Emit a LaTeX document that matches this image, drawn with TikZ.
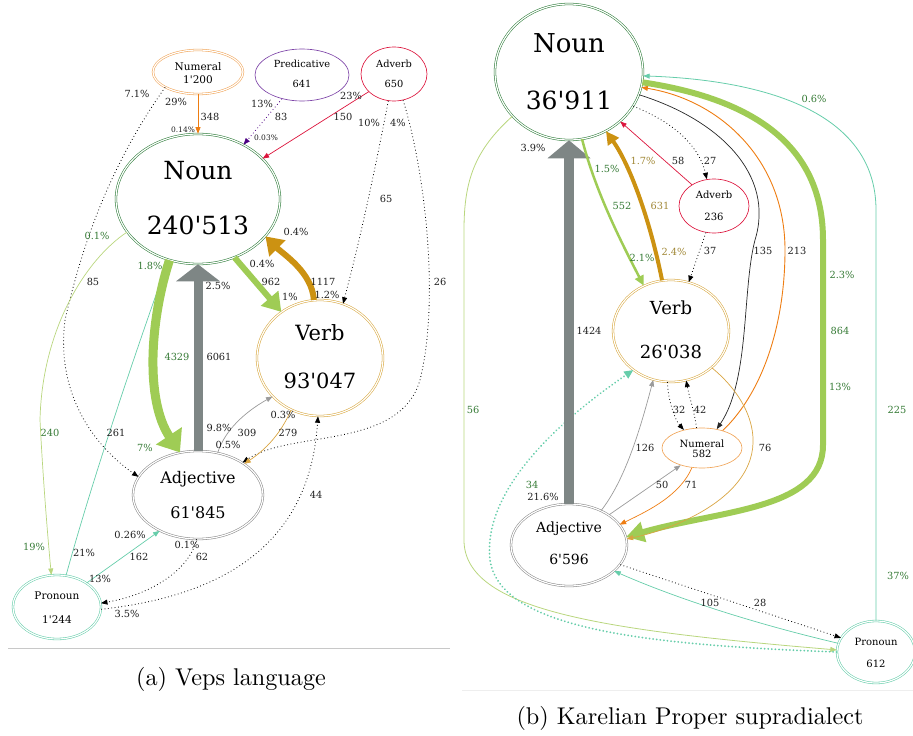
\documentclass[tikz,border=0pt]{standalone}
\usepackage{fontspec}
\newfontfamily\gv{DejaVu Serif}
\usetikzlibrary{shapes.geometric,arrows.meta}
\definecolor{cNoun}{HTML}{2E7D3A}
\definecolor{cLabG}{HTML}{357A35}
\definecolor{cYG}{HTML}{9FCC55}
\definecolor{cYGl}{HTML}{B9D67E}
\definecolor{cGold}{HTML}{CC9212}
\definecolor{cGoldB}{HTML}{D8A840}
\definecolor{cGoldl}{HTML}{D9A441}
\definecolor{cLabO}{HTML}{A08735}
\definecolor{cGray}{HTML}{7E8685}
\definecolor{cGrayl}{HTML}{9A9A9A}
\definecolor{cAdjB}{HTML}{8A8A8A}
\definecolor{cAqua}{HTML}{66CDAA}
\definecolor{cOr}{HTML}{EE7D12}
\definecolor{cOrB}{HTML}{F0A458}
\definecolor{cCrim}{HTML}{DC143C}
\definecolor{cPurp}{HTML}{7E45A8}
\definecolor{cInd}{HTML}{4B0082}
\definecolor{cLabK}{HTML}{1E1E1E}
\definecolor{cSep}{HTML}{C8C8C8}
\definecolor{cSepl}{HTML}{EEEEEE}
\newcommand\gvs[1]{\gv\fontsize{#1}{#1}\selectfont}
\begin{document}
\begin{tikzpicture}[x=1pt,y=-1pt,
  ell/.style={ellipse, draw, inner sep=0pt},
  dbl/.style={double=white, double distance=1.2pt, line width=0.55pt},
  sgl/.style={line width=0.65pt},
  nm/.style={anchor=base, inner sep=0pt, text=black},
  lab/.style={anchor=base, yshift=-3.5pt, inner sep=0pt, font=\gvs{9.8}, text=cLabK},
  slab/.style={anchor=base, yshift=-2.7pt, inner sep=0pt, font=\gvs{7.5}, text=cLabK},
  glab/.style={lab, text=cLabG},
  olab/.style={lab, text=cLabO},
  arr/.style={-{Triangle[length=6.5pt,width=5pt]}},
  dotl/.style={line width=0.8pt, dash pattern=on 0.8pt off 2.6pt},
  capt/.style={anchor=base, inner sep=0pt, font=\fontsize{10}{12}\selectfont, scale=2.42},
]
\useasboundingbox (0,0) rectangle (913,736);

% ---------------- Left panel nodes ----------------
\node[ell,dbl,draw=cNoun,minimum width=164pt,minimum height=130pt] (nA) at (198,199) {};
\node[ell,dbl,draw=cGoldB,minimum width=126pt,minimum height=116pt] (vA) at (320,358) {};
\node[ell,dbl,draw=cAdjB,minimum width=130pt,minimum height=88pt] (aA) at (198,495) {};
\node[ell,dbl,draw=cAqua,minimum width=88pt,minimum height=64pt] (pA) at (57,607) {};
\node[ell,dbl,draw=cOrB,minimum width=90pt,minimum height=44pt] (mA) at (198,72) {};
\node[ell,sgl,draw=cPurp,minimum width=94pt,minimum height=52pt] (qA) at (302,75) {};
\node[ell,sgl,draw=cCrim,minimum width=66pt,minimum height=54pt] (dA) at (394,74) {};

\node[nm,font=\gvs{25}] (nAt1) at (198,179) {Noun};
\node[nm,font=\gvs{25}] (nAt2) at (198,234) {240'513};
\node[nm,font=\gvs{21}] (vAt1) at (320,340) {Verb};
\node[nm,font=\gvs{21}] (vAt2) at (320,388) {93'047};
\node[nm,font=\gvs{16}] (aAt1) at (198,483) {Adjective};
\node[nm,font=\gvs{16}] (aAt2) at (198,518) {61'845};
\node[nm,font=\gvs{10.5}] (pAt1) at (57,599) {Pronoun};
\node[nm,font=\gvs{10.5}] (pAt2) at (57,623) {1'244};
\node[nm,font=\gvs{10.5}] (mAt1) at (198,70) {Numeral};
\node[nm,font=\gvs{10.5}] (mAt2) at (198,83) {1'200};
\node[nm,font=\gvs{9.8}] (qAt1) at (302,67) {Predicative};
\node[nm,font=\gvs{9.8}] (qAt2) at (302,87) {641};
\node[nm,font=\gvs{9.8}] (dAt1) at (394,67) {Adverb};
\node[nm,font=\gvs{9.8}] (dAt2) at (394,87) {650};

% ---------------- Left panel edges ----------------
\draw[cOr, line width=0.7pt, arr] (mA.south) -- (nA.north);
\draw[dotl, arr] (mA.205) .. controls (110,165) and (82,245) .. (65,320) .. controls (55,400) and (100,450) .. (aA.163);
\draw[dotl, cInd, arr] (qA.230) -- (nA.50);
\draw[cCrim, line width=0.7pt, arr] (dA.215) -- (nA.32);
\draw[dotl, arr] (dA.258) .. controls (375,170) and (360,240) .. (vA.67);
\draw[dotl, arr] (dA.289) .. controls (425,170) and (440,300) .. (420,380) .. controls (400,450) and (290,430) .. (aA.36);
\draw[cYGl, line width=0.7pt, arr] (nA.205) .. controls (85,260) and (42,330) .. (40,420) .. controls (43,480) and (48,540) .. (pA.100);
\draw[cAqua, line width=0.7pt, arr] (pA.74) .. controls (95,470) and (140,340) .. (nA.244);
\draw[cYG, line width=9pt, -{Triangle[length=20pt,width=30pt]}] (nA.245) .. controls (150,320) and (145,400) .. (aA.113);
\draw[cGray, line width=9pt, -{Triangle[length=17pt,width=43pt]}] (aA.north) -- (nA.south);
\draw[cYG, line width=6pt, -{Triangle[length=18pt,width=22pt]}] (nA.302) -- (vA.130);
\draw[cGold, line width=6pt, -{Triangle[length=17pt,width=22pt]}] (vA.96) .. controls (312,272) and (283,254) .. (nA.331);
\draw[cGrayl, line width=0.7pt, arr] (aA.65) .. controls (225,430) and (245,412) .. (vA.219);
\draw[cGoldl, line width=0.7pt, arr] (vA.241) .. controls (280,435) and (265,450) .. (aA.34);
\draw[dotl, arr] (aA.268) .. controls (190,570) and (150,595) .. (pA.5);
\draw[cAqua, line width=0.7pt, arr] (pA.39) -- (aA.223);
\draw[dotl, arr] (pA.-3) .. controls (230,595) and (310,540) .. (vA.268);

% ---------------- Left panel labels ----------------
\node[lab] (la1) at (176,102) {29\%};
\node[lab] (la2) at (210,117) {348};
\node[slab] (la3) at (183,130) {0.14\%};
\node[lab] (la4) at (137,94) {7.1\%};
\node[lab] (la5) at (93,282) {85};
\node[lab] (la6) at (262,104) {13\%};
\node[lab] (la7) at (281,117) {83};
\node[slab] (la8) at (266,138) {0.03\%};
\node[lab] (la9) at (351,96) {23\%};
\node[lab] (la10) at (343,117) {150};
\node[lab] (la11) at (369,123) {10\%};
\node[lab] (la12) at (398,123) {4\%};
\node[lab] (la13) at (386,199) {65};
\node[lab] (la14) at (440,282) {26};
\node[glab] (la15) at (97,236) {0.1\%};
\node[glab] (la16) at (150,266) {1.8\%};
\node[lab] (la17) at (218,286) {2.5\%};
\node[lab] (la18) at (262,264) {0.4\%};
\node[lab] (la19) at (271,282) {962};
\node[lab] (la20) at (290,297) {1\%};
\node[lab] (la21) at (296,232) {0.4\%};
\node[lab] (la22) at (323,282) {1117};
\node[lab] (la23) at (327,295) {1.2\%};
\node[glab] (la24) at (177,357) {4329};
\node[lab] (la25) at (219,357) {6061};
\node[glab] (la26) at (50,433) {240};
\node[lab] (la27) at (116,433) {261};
\node[glab] (la28) at (145,448) {7\%};
\node[lab] (la29) at (219,428) {9.8\%};
\node[lab] (la30) at (247,433) {309};
\node[lab] (la31) at (228,445) {0.5\%};
\node[lab] (la32) at (283,415) {0.3\%};
\node[lab] (la33) at (288,433) {279};
\node[lab] (la34) at (316,495) {44};
\node[glab] (la35) at (34,547) {19\%};
\node[lab] (la36) at (84,553) {21\%};
\node[lab] (la37) at (130,535) {0.26\%};
\node[lab] (la38) at (139,557) {162};
\node[lab] (la39) at (100,579) {13\%};
\node[lab] (la40) at (187,545) {0.1\%};
\node[lab] (la41) at (202,557) {62};
\node[lab] (la42) at (127,614) {3.5\%};

% ---------------- Right panel nodes ----------------
\node[ell,dbl,draw=cNoun,minimum width=148pt,minimum height=136pt] (nB) at (569,72) {};
\node[ell,sgl,draw=cCrim,minimum width=70pt,minimum height=54pt] (dB) at (714,206) {};
\node[ell,dbl,draw=cGoldB,minimum width=116pt,minimum height=102pt] (vB) at (671,331) {};
\node[ell,sgl,draw=cOrB,minimum width=80pt,minimum height=40pt] (mB) at (702,448) {};
\node[ell,dbl,draw=cAdjB,minimum width=116pt,minimum height=82pt] (aB) at (569,545) {};
\node[ell,dbl,draw=cAqua,minimum width=78pt,minimum height=62pt] (pB) at (876,652) {};

\node[nm,font=\gvs{26}] (nBt1) at (569,52) {Noun};
\node[nm,font=\gvs{25}] (nBt2) at (569,109) {36'911};
\node[nm,font=\gvs{10}] (dBt1) at (714,198) {Adverb};
\node[nm,font=\gvs{10}] (dBt2) at (714,220) {236};
\node[nm,font=\gvs{18}] (vBt1) at (671,314) {Verb};
\node[nm,font=\gvs{18}] (vBt2) at (671,358) {26'038};
\node[nm,font=\gvs{10}] (mBt1) at (702,447) {Numeral};
\node[nm,font=\gvs{10}] (mBt2) at (702,457) {582};
\node[nm,font=\gvs{14}] (aBt1) at (569,532) {Adjective};
\node[nm,font=\gvs{14}] (aBt2) at (569,564) {6'596};
\node[nm,font=\gvs{10}] (pBt1) at (876,645) {Pronoun};
\node[nm,font=\gvs{10}] (pBt2) at (876,667) {612};

% ---------------- Right panel edges ----------------
\draw[cYGl, line width=0.8pt, arr] (nB.218) .. controls (475,150) and (464,180) .. (464,230) -- (464,540) .. controls (464,610) and (600,630) .. (pB.177);
\draw[cAqua, line width=2pt, line cap=round, dash pattern=on 0.01pt off 3.6pt, -{Triangle[length=9pt,width=8pt]}] (pB.180) .. controls (650,645) and (500,630) .. (490,560) .. controls (482,490) and (560,420) .. (vB.226);
\draw[cGray, line width=10pt, -{Triangle[length=18pt,width=42pt]}] (aB.north) -- (nB.south);
\draw[cYG, line width=2.5pt, -{Triangle[length=10pt,width=9pt]}] (nB.281) .. controls (595,190) and (620,240) .. (vB.121);
\draw[cGold, line width=4pt, -{Triangle[length=13pt,width=13pt]}] (vB.100) .. controls (650,220) and (630,165) .. (nB.302);
\draw[cCrim, line width=0.7pt, arr] (dB.136) -- (nB.316);
\draw[dotl, arr] (nB.332) .. controls (680,125) and (700,150) .. (dB.105);
\draw[dotl, arr] (dB.253) -- (vB.70);
\draw[black!85, line width=0.7pt, arr] (nB.342) .. controls (720,120) and (775,175) .. (755,240) .. controls (742,290) and (750,380) .. (mB.52);
\draw[cOr, line width=0.9pt, arr] (mB.40) .. controls (765,390) and (785,320) .. (785,250) .. controls (785,160) and (720,100) .. (nB.348);
\draw[cYG, line width=6pt, -{Triangle[length=18pt,width=20pt]}] (nB.352) .. controls (760,100) and (823,150) .. (823,240) -- (823,445) .. controls (823,510) and (720,510) .. (aB.8);
\draw[cAqua, line width=0.8pt, arr] (pB.north) -- (876,210) .. controls (876,110) and (760,80) .. (nB.357);
\draw[dotl, arr] (vB.266) .. controls (668,400) and (675,420) .. (mB.135);
\draw[dotl, arr] (mB.105) .. controls (694,410) and (690,400) .. (vB.287);
\draw[cGrayl, line width=0.7pt, arr] (aB.47) .. controls (625,480) and (640,430) .. (vB.250);
\draw[cGrayl, line width=0.7pt, arr] (aB.37) -- (mB.219);
\draw[cOr, line width=0.7pt, arr] (mB.243) .. controls (680,495) and (650,510) .. (aB.22);
\draw[cGoldl, line width=0.7pt, arr] (vB.318) .. controls (745,395) and (760,430) .. (750,460) .. controls (735,505) and (670,530) .. (aB.6);
\draw[dotl, arr] (aB.339) -- (pB.158);
\draw[cAqua, line width=0.7pt, arr] (pB.167) .. controls (760,625) and (680,600) .. (aB.330);

% ---------------- Right panel labels ----------------
\node[lab] (lb1) at (533,148) {3.9\%};
\node[glab] (lb2) at (607,169) {1.5\%};
\node[olab] (lb3) at (643,161) {1.7\%};
\node[lab] (lb4) at (678,161) {58};
\node[lab] (lb5) at (710,161) {27};
\node[glab] (lb6) at (622,206) {552};
\node[olab] (lb7) at (660,206) {631};
\node[glab] (lb8) at (642,258) {2.1\%};
\node[olab] (lb9) at (674,252) {2.4\%};
\node[lab] (lb10) at (710,251) {37};
\node[lab] (lb11) at (763,251) {135};
\node[lab] (lb12) at (797,251) {213};
\node[glab] (lb13) at (814,99) {0.6\%};
\node[glab] (lb14) at (842,275) {2.3\%};
\node[lab] (lb15) at (589,331) {1424};
\node[glab] (lb16) at (840,331) {864};
\node[glab] (lb17) at (840,387) {13\%};
\node[glab] (lb18) at (473,410) {56};
\node[glab] (lb19) at (897,410) {225};
\node[lab] (lb20) at (679,410) {32};
\node[lab] (lb21) at (700,410) {42};
\node[lab] (lb22) at (645,448) {126};
\node[lab] (lb23) at (765,448) {76};
\node[glab] (lb24) at (532,485) {34};
\node[lab] (lb25) at (543,497) {21.6\%};
\node[lab] (lb26) at (662,485) {50};
\node[lab] (lb27) at (691,485) {71};
\node[lab] (lb28) at (710,603) {105};
\node[lab] (lb29) at (760,603) {28};
\node[glab] (lb30) at (898,576) {37\%};

% ---------------- separators and captions ----------------
\coordinate (sAl) at (8,648);
\coordinate (sAr) at (450,648);
\coordinate (sBl) at (462,690);
\coordinate (sBr) at (913,690);
\draw[cSep, line width=0.8pt] (sAl) -- (sAr);
\draw[cSepl, line width=0.8pt] (sBl) -- (sBr);
\node[capt] (capA) at (231,685) {(a) Veps language};
\node[capt] (capB) at (690,724) {(b) Karelian Proper supradialect};
\end{tikzpicture}
\end{document}
